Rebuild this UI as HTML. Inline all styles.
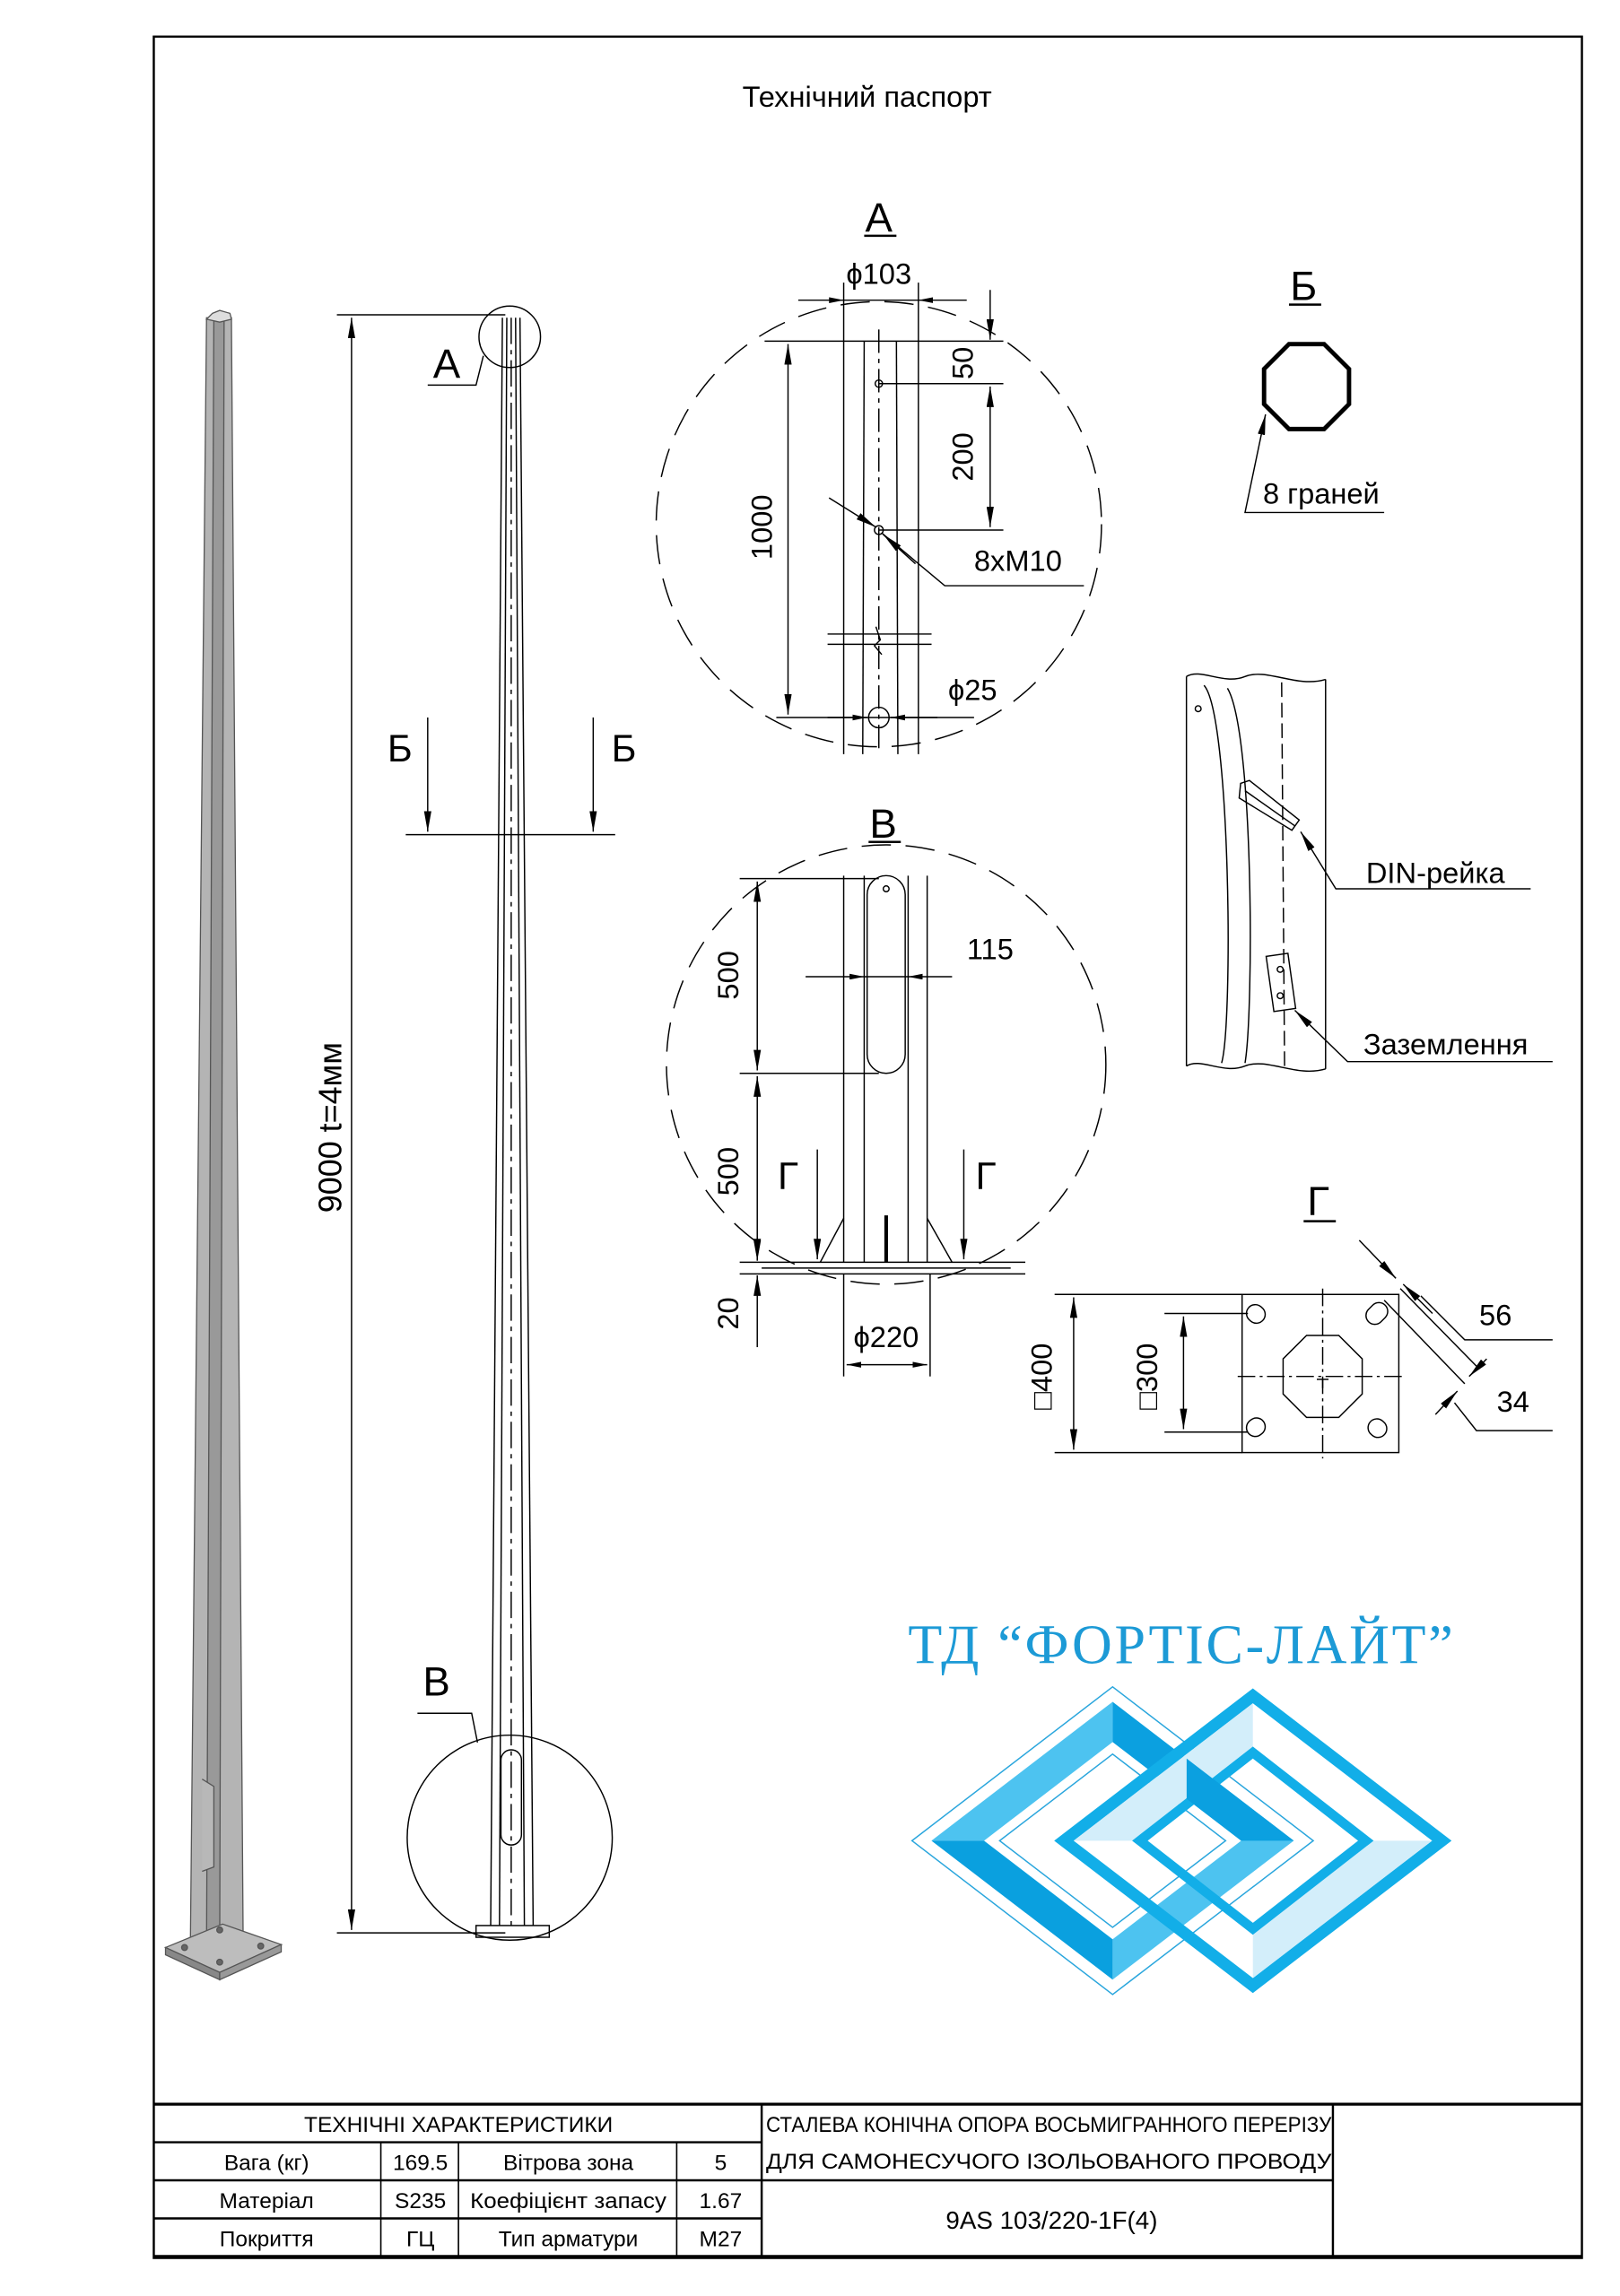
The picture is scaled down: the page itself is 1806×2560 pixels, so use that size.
<!DOCTYPE html>
<html><head><meta charset="utf-8"><style>
html,body{margin:0;padding:0;background:#fff}
svg{display:block}
text{font-family:"Liberation Sans","DejaVu Sans",sans-serif;fill:#000}
</style></head><body>
<svg width="1806" height="2560" viewBox="0 0 1106 1568" preserveAspectRatio="none" xmlns="http://www.w3.org/2000/svg">
<defs>
<marker id="a" viewBox="0 0 10 4" refX="10" refY="2" markerWidth="10" markerHeight="4" markerUnits="userSpaceOnUse" orient="auto-start-reverse"><path d="M0,0L10,2L0,4z" fill="#000"/></marker>
<marker id="b" viewBox="0 0 14 5" refX="14" refY="2.5" markerWidth="14" markerHeight="5" markerUnits="userSpaceOnUse" orient="auto-start-reverse"><path d="M0,0L14,2.5L0,5z" fill="#000"/></marker>
</defs>
<rect width="1106" height="1568" fill="#fff"/>
<rect x="105" y="25" width="975" height="1517" fill="none" stroke="#000" stroke-width="1.5"/>
<text x="592" y="73" font-size="20" text-anchor="middle">Технічний паспорт</text>

<!-- 3D pole -->
<g stroke="#555" stroke-width="0.8">
<polygon points="141,217 158,217 166,1325 130,1325" fill="#b4b4b4"/>
<polygon points="146,217 153,217 150,1330 141,1330" fill="#999"/>
<polygon points="145,214 150,212 157,214 158,218 150,220 141,218" fill="#ddd"/>
<polygon points="113,1330 152,1314 192,1328 150,1347" fill="#bdbdbd"/>
<polygon points="113,1330 150,1347 150,1352 113,1335" fill="#888"/>
<polygon points="150,1347 192,1328 192,1333 150,1352" fill="#999"/>
<path d="M138,1215 l8,5 v55 l-8,3" fill="#b8b8b8"/>
<circle cx="126" cy="1330" r="2" fill="#666"/><circle cx="150" cy="1318" r="2" fill="#666"/><circle cx="178" cy="1329" r="2" fill="#666"/><circle cx="150" cy="1340" r="2" fill="#666"/>
</g>

<!-- Main pole elevation -->
<g stroke="#000" fill="none" stroke-width="0.9">
<line x1="343" y1="217" x2="335" y2="1315"/><line x1="355" y1="217" x2="364" y2="1315"/>
<line x1="346" y1="217" x2="341" y2="1315"/><line x1="352" y1="217" x2="358" y2="1315"/>
<line x1="349" y1="217" x2="349" y2="1315" stroke-dasharray="18,4,3,4"/>
<rect x="325" y="1315" width="50" height="8"/>
<rect x="342" y="1195" width="14" height="65" rx="7"/>
<circle cx="348" cy="230" r="21"/>
<circle cx="348" cy="1255" r="70"/>
<polyline points="330,243 325,263 292,263"/>
<polyline points="326,1190 322,1170 285,1170"/>
<line x1="230" y1="215" x2="345" y2="215"/><line x1="230" y1="1320" x2="345" y2="1320"/>
<line x1="240" y1="217" x2="240" y2="1318" marker-start="url(#b)" marker-end="url(#b)"/>
<line x1="277" y1="570" x2="420" y2="570"/>
<line x1="292" y1="490" x2="292" y2="568" marker-end="url(#b)"/>
<line x1="405" y1="490" x2="405" y2="568" marker-end="url(#b)"/>
</g>
<text x="305" y="258" font-size="28" text-anchor="middle">А</text>
<text x="298" y="1158" font-size="28" text-anchor="middle">В</text>
<text x="273" y="520" font-size="26" text-anchor="middle">Б</text>
<text x="426" y="520" font-size="26" text-anchor="middle">Б</text>
<text transform="translate(233,770) rotate(-90)" font-size="22" text-anchor="middle">9000 t=4мм</text>

<!-- Detail A -->
<g stroke="#000" fill="none" stroke-width="0.9">
<circle cx="600" cy="358" r="152" stroke-dasharray="20,10"/>
<line x1="590" y1="161" x2="612" y2="161" stroke-width="1.5"/>
<line x1="576" y1="193" x2="576" y2="515"/><line x1="627" y1="193" x2="627" y2="515"/>
<line x1="590" y1="233" x2="589" y2="515"/><line x1="612" y1="233" x2="613" y2="515"/>
<line x1="600" y1="225" x2="600" y2="515" stroke-dasharray="16,4,3,4"/>
<line x1="545" y1="205" x2="576" y2="205" marker-end="url(#a)"/>
<line x1="660" y1="205" x2="627" y2="205" marker-end="url(#a)"/>
<line x1="576" y1="205" x2="627" y2="205"/>
<line x1="522" y1="233" x2="685" y2="233"/>
<line x1="600" y1="262" x2="685" y2="262"/><line x1="600" y1="362" x2="685" y2="362"/>
<circle cx="600" cy="262" r="2.5"/><circle cx="600" cy="362" r="3"/>
<line x1="676" y1="198" x2="676" y2="232" marker-end="url(#b)"/>
<line x1="676" y1="264" x2="676" y2="360" marker-start="url(#b)" marker-end="url(#b)"/>
<line x1="538" y1="235" x2="538" y2="488" marker-start="url(#b)" marker-end="url(#b)"/>
<line x1="566" y1="340" x2="598" y2="360" marker-end="url(#b)"/>
<polyline points="602,364 645,400 740,400"/>
<line x1="625" y1="385" x2="603" y2="365" marker-end="url(#b)"/>
<line x1="565" y1="433" x2="636" y2="433"/><line x1="565" y1="440" x2="636" y2="440"/>
<polyline points="598,428 601,437 597,441 602,447"/>
<circle cx="600" cy="490" r="7"/>
<line x1="530" y1="490" x2="665" y2="490"/>
<line x1="565" y1="490" x2="592" y2="490" marker-end="url(#a)"/>
<line x1="640" y1="490" x2="608" y2="490" marker-end="url(#a)"/>
</g>
<text x="600" y="158" font-size="28" text-anchor="middle">А</text>
<text x="600" y="194" font-size="20" text-anchor="middle">ϕ103</text>
<text transform="translate(664,248) rotate(-90)" font-size="20" text-anchor="middle">50</text>
<text transform="translate(664,312) rotate(-90)" font-size="20" text-anchor="middle">200</text>
<text transform="translate(527,360) rotate(-90)" font-size="20" text-anchor="middle">1000</text>
<text x="695" y="390" font-size="20" text-anchor="middle">8xM10</text>
<text x="664" y="478" font-size="20" text-anchor="middle">ϕ25</text>

<!-- Detail Б -->
<g stroke="#000" fill="none">
<line x1="880" y1="208" x2="902" y2="208" stroke-width="1.5"/>
<polygon points="880,235 904,235 921,252 921,276 904,293 880,293 863,276 863,252" stroke-width="3"/>
<polyline points="945,350 850,350 864,283" stroke-width="0.9" marker-end="url(#b)"/>
</g>
<text x="890" y="205" font-size="28" text-anchor="middle">Б</text>
<text x="902" y="344" font-size="20" text-anchor="middle">8 граней</text>

<!-- DIN detail -->
<g stroke="#000" fill="none" stroke-width="0.9">
<path d="M810,462 c10,-6 25,6 40,0 c15,-6 35,8 55,2"/>
<path d="M810,728 c10,-6 25,6 40,0 c15,-6 35,8 55,2"/>
<line x1="810" y1="462" x2="810" y2="728"/><line x1="905" y1="464" x2="905" y2="730"/>
<path d="M822,468 c18,20 20,230 12,258"/>
<path d="M838,470 c18,30 18,220 12,256"/>
<line x1="875" y1="466" x2="877" y2="728" stroke-dasharray="10,4"/>
<circle cx="818" cy="484" r="2"/>
<polygon points="847,535 853,533 887,560 882,567 846,545"/>
<line x1="850" y1="540" x2="884" y2="564"/>
<rect x="867" y="652" width="15" height="38" transform="rotate(-8 874 671)"/>
<circle cx="874" cy="662" r="2"/><circle cx="874" cy="680" r="2"/>
<polyline points="1045,607 912,607 888,568" marker-end="url(#b)"/>
<polyline points="1060,725 920,725 884,690" marker-end="url(#b)"/>
</g>
<text x="980" y="603" font-size="20" text-anchor="middle">DIN-рейка</text>
<text x="987" y="720" font-size="20" text-anchor="middle">Заземлення</text>

<!-- Detail В -->
<g stroke="#000" fill="none" stroke-width="0.9">
<circle cx="605" cy="727" r="150" stroke-dasharray="20,10"/>
<line x1="593" y1="575" x2="615" y2="575" stroke-width="1.5"/>
<line x1="576" y1="598" x2="576" y2="862"/><line x1="633" y1="598" x2="633" y2="862"/>
<line x1="590" y1="598" x2="590" y2="862"/><line x1="620" y1="598" x2="620" y2="862"/>
<rect x="592" y="598" width="26" height="135" rx="13"/>
<circle cx="605" cy="607" r="2"/>
<line x1="605" y1="830" x2="605" y2="862" stroke-width="2.5"/>
<line x1="505" y1="600" x2="600" y2="600"/><line x1="505" y1="733" x2="600" y2="733"/>
<line x1="505" y1="862" x2="700" y2="862"/><line x1="505" y1="870" x2="700" y2="870"/>
<line x1="520" y1="866" x2="690" y2="866"/>
<polyline points="560,862 576,832"/><polyline points="650,862 633,832"/>
<line x1="517" y1="602" x2="517" y2="731" marker-start="url(#b)" marker-end="url(#b)"/>
<line x1="517" y1="735" x2="517" y2="860" marker-start="url(#b)" marker-end="url(#b)"/>
<line x1="517" y1="845" x2="517" y2="861" marker-end="url(#b)"/>
<line x1="517" y1="920" x2="517" y2="871" marker-end="url(#b)"/>
<line x1="550" y1="667" x2="590" y2="667" marker-end="url(#a)"/>
<line x1="650" y1="667" x2="620" y2="667" marker-end="url(#a)"/>
<line x1="590" y1="667" x2="620" y2="667"/>
<line x1="558" y1="785" x2="558" y2="860" marker-end="url(#b)"/>
<line x1="658" y1="785" x2="658" y2="860" marker-end="url(#b)"/>
<line x1="576" y1="870" x2="576" y2="940"/><line x1="635" y1="870" x2="635" y2="940"/>
<line x1="578" y1="932" x2="633" y2="932" marker-start="url(#a)" marker-end="url(#a)"/>
</g>
<text x="603" y="572" font-size="28" text-anchor="middle">В</text>
<text x="676" y="655" font-size="20" text-anchor="middle">115</text>
<text transform="translate(504,666) rotate(-90)" font-size="20" text-anchor="middle">500</text>
<text transform="translate(504,800) rotate(-90)" font-size="20" text-anchor="middle">500</text>
<text transform="translate(504,897) rotate(-90)" font-size="20" text-anchor="middle">20</text>
<text x="538" y="812" font-size="26" text-anchor="middle">Г</text>
<text x="673" y="812" font-size="26" text-anchor="middle">Г</text>
<text x="605" y="920" font-size="20" text-anchor="middle">ϕ220</text>

<!-- Detail Г -->
<g stroke="#000" fill="none" stroke-width="0.9">
<line x1="890" y1="834" x2="912" y2="834" stroke-width="1.5"/>
<rect x="848" y="884" width="107" height="108"/>
<polygon points="892,912 914,912 930,928 930,952 914,968 892,968 876,952 876,928"/>
<line x1="845" y1="940" x2="958" y2="940" stroke-dasharray="12,3,2,3"/>
<line x1="903" y1="880" x2="903" y2="996" stroke-dasharray="12,3,2,3"/>
<line x1="899" y1="942" x2="907" y2="942"/><line x1="903" y1="942" x2="903" y2="948"/>
<rect x="851" y="891" width="13" height="12" rx="6" transform="rotate(40 857 897)"/>
<rect x="851" y="969" width="13" height="12" rx="6" transform="rotate(-40 857 975)"/>
<rect x="932" y="891" width="16" height="12" rx="6" transform="rotate(-45 940 897)"/>
<rect x="934" y="969" width="13" height="12" rx="6" transform="rotate(40 940 975)"/>
<line x1="720" y1="884" x2="848" y2="884"/><line x1="720" y1="992" x2="848" y2="992"/>
<line x1="733" y1="886" x2="733" y2="990" marker-start="url(#b)" marker-end="url(#b)"/>
<line x1="795" y1="897" x2="852" y2="897"/><line x1="795" y1="978" x2="852" y2="978"/>
<line x1="808" y1="899" x2="808" y2="976" marker-start="url(#b)" marker-end="url(#b)"/>
<line x1="945" y1="888" x2="1000" y2="945"/><line x1="956" y1="880" x2="1010" y2="935"/>
<line x1="928" y1="847" x2="953" y2="873" marker-end="url(#b)"/>
<line x1="978" y1="897" x2="958" y2="877" marker-end="url(#b)"/>
<polyline points="970,885 1000,915 1060,915"/>
<line x1="1015" y1="928" x2="1003" y2="940" marker-end="url(#b)"/>
<polyline points="993,958 1008,977 1060,977"/>
<line x1="980" y1="966" x2="995" y2="950" marker-end="url(#b)"/>
</g>
<text x="900" y="830" font-size="28" text-anchor="middle">Г</text>
<text x="1021" y="905" font-size="20" text-anchor="middle">56</text>
<text x="1033" y="964" font-size="20" text-anchor="middle">34</text>
<text transform="translate(718,940) rotate(-90)" font-size="20" text-anchor="middle">□400</text>
<text transform="translate(790,940) rotate(-90)" font-size="20" text-anchor="middle">□300</text>

<!-- Logo -->
<text x="806" y="1136" font-size="38" text-anchor="middle" textLength="372" style="font-family:'Liberation Serif',serif;fill:#1c9ad6">ТД “ФОРТІС-ЛАЙТ”</text>
<g transform="translate(600,1152) scale(0.266,0.204) translate(0,-365)">
<polygon points="85,880 600,365 1115,880 600,1395" fill="none" stroke="#2aa6dd" stroke-width="4"/>
<polygon points="135,880 600,415 600,550 270,880" fill="#4dc3f0"/>
<polygon points="600,415 1065,880 930,880 600,550" fill="#0ba0e0"/>
<polygon points="1065,880 600,1345 600,1210 930,880" fill="#4dc3f0"/>
<polygon points="600,1345 135,880 270,880 600,1210" fill="#0aa0df"/>
<polygon points="310,880 600,590 890,880 600,1170" fill="none" stroke="#2aa6dd" stroke-width="4"/>
<polygon points="450,880 960,370 1470,880 960,1390 450,880 500,880 960,1340 1420,880 960,420 500,880" fill="#12aee8"/>
<polygon points="500,880 960,420 960,565 650,880" fill="#d3eefa"/>
<polygon points="1420,880 960,1340 960,1195 1270,880" fill="#d3eefa"/>
<polygon points="650,880 960,565 1270,880 960,1195 650,880 690,880 960,1155 1230,880 960,605 690,880" fill="#12aee8"/>
<polygon points="790,605 1065,880 930,880 790,740" fill="#0ba0e0"/>
</g>

<!-- Title block -->
<g stroke="#000" fill="none">
<line x1="105" y1="1437" x2="1080" y2="1437" stroke-width="2"/>
<line x1="105" y1="1463" x2="520" y2="1463" stroke-width="1.5"/>
<line x1="105" y1="1489" x2="910" y2="1489" stroke-width="1.5"/>
<line x1="105" y1="1515" x2="520" y2="1515" stroke-width="1.5"/>
<line x1="105" y1="1541" x2="1080" y2="1541" stroke-width="2"/>
<line x1="260" y1="1463" x2="260" y2="1541" stroke-width="1"/>
<line x1="313" y1="1463" x2="313" y2="1541" stroke-width="1"/>
<line x1="462" y1="1463" x2="462" y2="1541" stroke-width="1"/>
<line x1="520" y1="1437" x2="520" y2="1541" stroke-width="1.5"/>
<line x1="910" y1="1437" x2="910" y2="1541" stroke-width="1.5"/>
</g>
<g font-size="15" text-anchor="middle">
<text x="313" y="1456">ТЕХНІЧНІ ХАРАКТЕРИСТИКИ</text>
<text x="182" y="1482">Вага (кг)</text><text x="287" y="1482">169.5</text><text x="388" y="1482">Вітрова зона</text><text x="492" y="1482">5</text>
<text x="182" y="1508">Матеріал</text><text x="287" y="1508">S235</text><text x="388" y="1508" textLength="134" lengthAdjust="spacingAndGlyphs">Коефіцієнт запасу</text><text x="492" y="1508">1.67</text>
<text x="182" y="1534">Покриття</text><text x="287" y="1534">ГЦ</text><text x="388" y="1534">Тип арматури</text><text x="492" y="1534">М27</text>
<text x="716" y="1456" textLength="386" lengthAdjust="spacingAndGlyphs">СТАЛЕВА КОНІЧНА ОПОРА ВОСЬМИГРАННОГО ПЕРЕРІЗУ</text>
<text x="716" y="1481" textLength="386" lengthAdjust="spacingAndGlyphs">ДЛЯ САМОНЕСУЧОГО ІЗОЛЬОВАНОГО ПРОВОДУ</text>
<text x="718" y="1522" font-size="17">9AS 103/220-1F(4)</text>
</g>
</svg>
</body></html>
